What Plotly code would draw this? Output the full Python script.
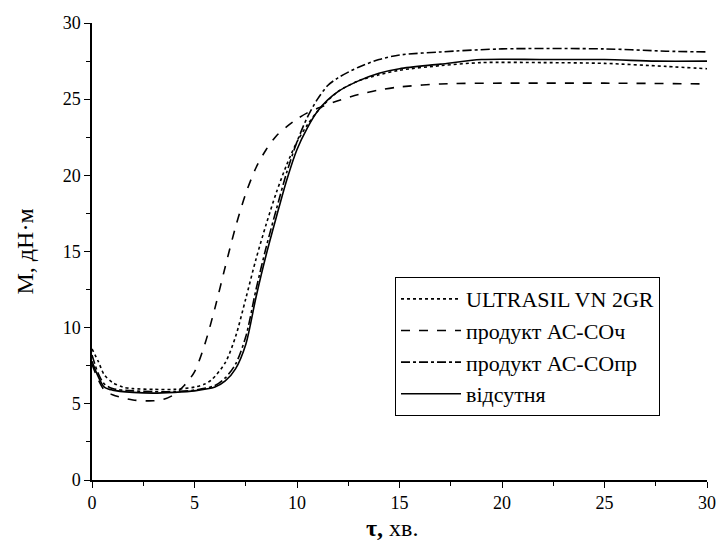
import plotly.graph_objects as go

# ULTRASIL VN 2GR (dotted)
x_ultra = [0, 0.3, 0.6, 1, 1.5, 2, 3, 4, 5, 5.5, 5.85, 6.5, 7, 7.5, 8, 8.5, 9, 9.5, 10, 10.5, 11, 12, 13, 14, 15, 17, 19, 22, 25, 28, 30]
y_ultra = [8.6, 7.8, 6.9, 6.4, 6.1, 6.0, 5.95, 5.95, 6.1, 6.3, 6.6, 7.7, 9.4, 11.9, 14.5, 16.8, 18.9, 20.7, 22.2, 23.3, 24.2, 25.5, 26.2, 26.6, 26.9, 27.2, 27.4, 27.4, 27.35, 27.15, 27.0]

# продукт АС-СОч (dashed)
x_ch = [0, 0.3, 0.6, 1, 2, 3, 3.5, 4, 4.5, 5, 5.5, 6, 6.5, 7, 7.5, 8, 8.5, 9, 9.5, 10, 10.5, 11, 12, 13, 14, 15, 17, 20, 25, 30]
y_ch = [7.6, 6.6, 5.9, 5.6, 5.25, 5.2, 5.3, 5.6, 6.2, 7.1, 8.9, 11.3, 14.0, 16.6, 18.8, 20.5, 21.7, 22.6, 23.2, 23.7, 24.1, 24.4, 24.9, 25.3, 25.6, 25.8, 26.0, 26.05, 26.05, 26.0]

# продукт АС-СОпр (dash-dot)
x_pr = [0, 0.3, 0.6, 1, 2, 3, 4, 5, 6, 6.5, 7, 7.5, 8, 8.5, 9, 9.5, 10, 10.5, 11, 11.5, 12, 13, 14, 15, 17, 20, 25, 28, 30]
y_pr = [8.2, 7.0, 6.3, 6.0, 5.85, 5.8, 5.8, 5.9, 6.2, 6.7, 7.6, 9.4, 12.5, 15.3, 17.8, 20.2, 22.2, 23.8, 25.0, 25.9, 26.4, 27.1, 27.6, 27.9, 28.1, 28.3, 28.3, 28.15, 28.1]

# відсутня (solid)
x_none = [0, 0.3, 0.6, 1, 2, 3, 4, 5, 6, 6.5, 7, 7.5, 8, 8.5, 9, 9.5, 10, 10.5, 11, 11.5, 12, 13, 14, 15, 17, 19, 22, 25, 27.5, 30]
y_none = [7.8, 6.8, 6.1, 5.9, 5.75, 5.7, 5.75, 5.85, 6.1, 6.5, 7.3, 8.9, 12.0, 14.8, 17.3, 19.7, 21.7, 23.1, 24.2, 24.95, 25.5, 26.2, 26.7, 27.0, 27.3, 27.6, 27.6, 27.6, 27.5, 27.5]

names = ["ULTRASIL VN 2GR", "продукт АС-СОч", "продукт АС-СОпр", "відсутня"]
x_ticks = [0, 5, 10, 15, 20, 25, 30]
y_ticks = [0, 5, 10, 15, 20, 25, 30]
x_title = "<b>τ,</b> хв."
y_title = "M, дН·м"

FONT = "Liberation Serif, Times New Roman, serif"

fig = go.Figure()
series = [(x_ultra, y_ultra, "dot"), (x_ch, y_ch, "dash"), (x_pr, y_pr, "dashdot"), (x_none, y_none, "solid")]
for (xs, ys, dash), nm in zip(series, names):
    fig.add_trace(go.Scatter(
        x=xs, y=ys, mode="lines", name=nm,
        line=dict(color="black", width=1.6, dash=dash, shape="spline", smoothing=0.8),
    ))

axis_common = dict(
    showgrid=False, zeroline=False, showline=True, linecolor="black", linewidth=1.5,
    ticks="outside", ticklen=6, tickwidth=1.2, tickcolor="black",
    tickfont=dict(family=FONT, size=18, color="black"),
    minor=dict(ticks="outside", ticklen=4, tickwidth=1.2, tickcolor="black", dtick=2.5),
    mirror=False, automargin=False,
)

fig.update_layout(
    width=717, height=550,
    margin=dict(l=92, r=10, t=23, b=70),
    paper_bgcolor="white", plot_bgcolor="white",
    font=dict(family=FONT, color="black"),
    xaxis=dict(range=[0, 30], tickvals=x_ticks, ticktext=[str(v) for v in x_ticks], **axis_common),
    yaxis=dict(range=[0, 30], tickvals=y_ticks, ticktext=[str(v) for v in y_ticks], **axis_common),
    legend=dict(x=0.4927, y=0.444, xanchor="left", yanchor="top",
                bordercolor="black", borderwidth=1, bgcolor="white",
                font=dict(family=FONT, size=22, color="black"),
                itemwidth=60),
    showlegend=True,
    annotations=[
        dict(text=x_title, xref="paper", yref="paper", x=0.488, y=-0.105,
             xanchor="center", yanchor="middle", showarrow=False,
             font=dict(family=FONT, size=24, color="black")),
        dict(text=y_title, xref="paper", yref="paper", x=-0.109, y=0.5,
             xanchor="center", yanchor="middle", showarrow=False, textangle=-90,
             font=dict(family=FONT, size=24, color="black")),
    ],
)

fig.write_html("out.html", config={"displayModeBar": False},
               post_script="document.body.style.margin='0';document.body.style.overflow='hidden';")
